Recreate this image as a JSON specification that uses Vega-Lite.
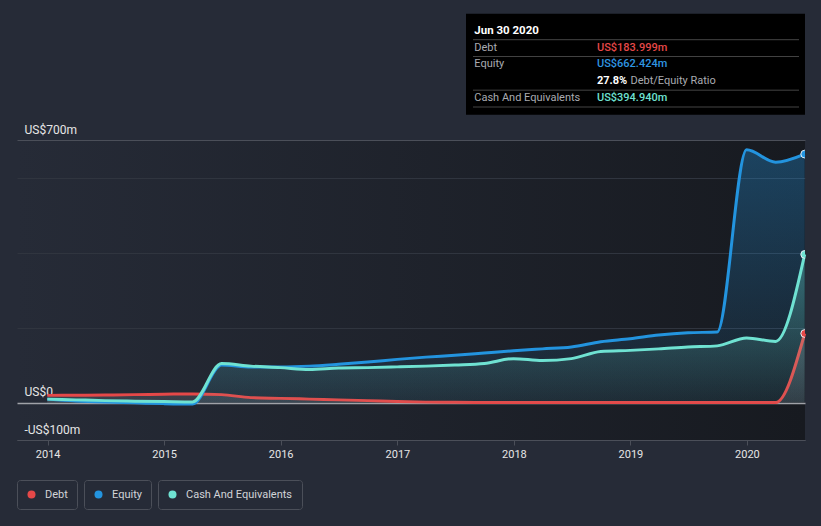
{
  "$schema": "https://vega.github.io/schema/vega-lite/v6.json",
  "width": 788,
  "height": 300,
  "autosize": {"type": "none"},
  "padding": {"left": 17, "top": 140, "right": 16, "bottom": 86},
  "background": "#262b37",
  "config": {
    "font": "Roboto",
    "view": {
      "stroke": null,
      "fill": {"gradient": "linear", "x1": 0, "y1": 0, "x2": 1, "y2": 0,
        "stops": [{"offset": 0, "color": "#262b37"}, {"offset": 1, "color": "#171a20"}]}
    },
    "legend": {
      "symbolType": "circle",
      "symbolSize": 64,
      "symbolStrokeWidth": 0,
      "labelColor": "#d2d4d8",
      "labelFontSize": 11,
      "labelFont": "Roboto",
      "padding": 9,
      "strokeColor": "#4b4f59",
      "cornerRadius": 3,
      "labelOffset": 8
    }
  },
  "datasets": {
    "fin": [
      {"date": "2013-12-31", "debt": 19, "equity": 9, "cash": 9},
      {"date": "2014-03-31", "debt": 19.5, "equity": 4, "cash": 7},
      {"date": "2014-06-30", "debt": 20, "equity": 1, "cash": 5},
      {"date": "2014-09-30", "debt": 21, "equity": -1, "cash": 3.5},
      {"date": "2014-12-31", "debt": 22, "equity": -3, "cash": 2.5},
      {"date": "2015-03-31", "debt": 23, "equity": -4, "cash": 1.5},
      {"date": "2015-06-30", "debt": 21, "equity": 100, "cash": 104},
      {"date": "2015-09-30", "debt": 13, "equity": 95, "cash": 97},
      {"date": "2015-12-31", "debt": 11, "equity": 95, "cash": 93},
      {"date": "2016-03-31", "debt": 9, "equity": 97, "cash": 88},
      {"date": "2016-06-30", "debt": 7, "equity": 102, "cash": 92},
      {"date": "2016-09-30", "debt": 5, "equity": 108, "cash": 93},
      {"date": "2016-12-31", "debt": 2.5, "equity": 115, "cash": 95},
      {"date": "2017-03-31", "debt": 1, "equity": 121, "cash": 97},
      {"date": "2017-06-30", "debt": 0.5, "equity": 126, "cash": 100},
      {"date": "2017-09-30", "debt": 0, "equity": 132, "cash": 104},
      {"date": "2017-12-31", "debt": 0, "equity": 138, "cash": 117},
      {"date": "2018-03-31", "debt": 0, "equity": 143, "cash": 112},
      {"date": "2018-06-30", "debt": 0, "equity": 148, "cash": 117},
      {"date": "2018-09-30", "debt": 0, "equity": 162, "cash": 136},
      {"date": "2018-12-31", "debt": 0, "equity": 170, "cash": 139},
      {"date": "2019-03-31", "debt": 0, "equity": 180, "cash": 143},
      {"date": "2019-06-30", "debt": 0, "equity": 186, "cash": 148},
      {"date": "2019-09-30", "debt": 0, "equity": 188, "cash": 151},
      {"date": "2019-12-31", "debt": 0, "equity": 674, "cash": 172},
      {"date": "2020-03-31", "debt": 0, "equity": 641, "cash": 163},
      {"date": "2020-06-30", "debt": 183.999, "equity": 662.424, "cash": 394.94}
    ],
    "tip": [
      {"k": "title", "label": "Jun 30 2020", "value": ""},
      {"k": "Debt", "label": "Debt", "value": "US$183.999m"},
      {"k": "Equity", "label": "Equity", "value": "US$662.424m"},
      {"k": "Ratio", "label": "", "value": "27.8%", "note": "Debt/Equity Ratio"},
      {"k": "Cash", "label": "Cash And Equivalents", "value": "US$394.940m"}
    ]
  },
  "layer": [
    {
      "data": {"name": "fin"},
      "transform": [{"fold": ["equity", "debt", "cash"], "as": ["series", "value"]}],
      "encoding": {
        "x": {
          "field": "date", "type": "temporal",
          "scale": {"type": "utc", "domain": [{"year": 2013, "month": 9, "date": 27, "utc": true}, {"year": 2020, "month": 7, "date": 1, "utc": true}]},
          "axis": {
            "title": null, "format": "%Y", "tickCount": {"interval": "year", "step": 1},
            "grid": false, "domainColor": "#4b4f59", "tickColor": "#4b4f59", "tickSize": 5,
            "labelColor": "#e6e6e6", "labelFontSize": 11, "labelPadding": 3, "labelFlush": false
          }
        },
        "y": {
          "field": "value", "type": "quantitative",
          "scale": {"domain": [-100, 700], "nice": false, "zero": false},
          "axis": {
            "title": null, "values": [-100, 0, 200, 400, 600, 700],
            "domain": false, "ticks": false, "tickSize": 0, "grid": true,
            "gridColor": {"condition": [{"test": "datum.value === 0", "value": "#a0a2a8"}, {"test": "datum.value === 700 || datum.value === -100", "value": "#4b4f59"}], "value": "#30353f"},
            "gridWidth": {"condition": {"test": "datum.value === 0", "value": 1.5}, "value": 1},
            "labelExpr": "datum.value === 700 ? 'US$700m' : datum.value === 0 ? 'US$0' : datum.value === -100 ? '-US$100m' : ''",
            "labelAlign": "left", "labelBaseline": "alphabetic", "labelPadding": -7, "labelOffset": -7,
            "labelColor": "#e6e6e6", "labelFontSize": 12, "labelBound": false, "labelOverlap": false
          }
        }
      },
      "layer": [
        {
          "transform": [{"filter": "datum.series === 'equity'"}],
          "mark": {"type": "area", "interpolate": "monotone",
            "color": {"gradient": "linear", "x1": 0, "y1": 0, "x2": 0, "y2": 1,
              "stops": [{"offset": 0, "color": "rgba(35,148,223,0.33)"}, {"offset": 1, "color": "rgba(35,148,223,0.05)"}]}},
          "encoding": {"y2": {"datum": 0}}
        },
        {
          "transform": [{"filter": "datum.series === 'debt'"}],
          "mark": {"type": "area", "interpolate": "monotone",
            "color": {"gradient": "linear", "x1": 0, "y1": 0, "x2": 0, "y2": 1,
              "stops": [{"offset": 0, "color": "rgba(190,195,205,0.22)"}, {"offset": 1, "color": "rgba(190,195,205,0.14)"}]}},
          "encoding": {"y2": {"datum": 0}}
        },
        {
          "transform": [{"filter": "datum.series === 'debt'"}],
          "mark": {"type": "line", "interpolate": "monotone", "color": "#e54848", "strokeWidth": 3},
          "encoding": {}
        },
        {
          "transform": [{"filter": "datum.series === 'cash'"}],
          "mark": {"type": "area", "interpolate": "monotone",
            "color": {"gradient": "linear", "x1": 0, "y1": 0, "x2": 0, "y2": 1,
              "stops": [{"offset": 0, "color": "rgba(113,231,214,0.33)"}, {"offset": 1, "color": "rgba(113,231,214,0.04)"}]}},
          "encoding": {"y2": {"datum": 0}}
        },
        {
          "transform": [{"filter": "datum.series === 'equity'"}],
          "mark": {"type": "line", "interpolate": "monotone", "color": "#2394df", "strokeWidth": 3},
          "encoding": {}
        },
        {
          "transform": [{"filter": "datum.series === 'cash'"}],
          "mark": {"type": "line", "interpolate": "monotone", "color": "#6fe2d2", "strokeWidth": 3},
          "encoding": {}
        },
        {
          "transform": [{"filter": "datum.series === 'debt' && time(datum.date) === utc(2020, 5, 30)"}],
          "mark": {"type": "point", "filled": true, "size": 60, "stroke": "#e8eef4", "strokeWidth": 1, "opacity": 1, "clip": true},
          "encoding": {
            "color": {"datum": "Debt", "scale": {"domain": ["Debt"], "range": ["#e54848"]},
              "legend": {"title": null, "orient": "none", "legendX": 0, "legendY": 340}}
          }
        },
        {
          "transform": [{"filter": "datum.series === 'equity' && time(datum.date) === utc(2020, 5, 30)"}],
          "mark": {"type": "point", "filled": true, "size": 60, "stroke": "#e8eef4", "strokeWidth": 1, "opacity": 1, "clip": true},
          "encoding": {
            "color": {"datum": "Equity", "scale": {"domain": ["Equity"], "range": ["#2394df"]},
              "legend": {"title": null, "orient": "none", "legendX": 67, "legendY": 340}}
          }
        },
        {
          "transform": [{"filter": "datum.series === 'cash' && time(datum.date) === utc(2020, 5, 30)"}],
          "mark": {"type": "point", "filled": true, "size": 60, "stroke": "#e8eef4", "strokeWidth": 1, "opacity": 1, "clip": true},
          "encoding": {
            "color": {"datum": "Cash And Equivalents", "scale": {"domain": ["Cash And Equivalents"], "range": ["#6fe2d2"]},
              "legend": {"title": null, "orient": "none", "legendX": 141, "legendY": 340}}
          }
        }
      ],
      "resolve": {"scale": {"color": "independent"}}
    },
    {
      "data": {"name": "tip"},
      "encoding": {
        "y": {"field": "k", "type": "ordinal",
          "scale": {"type": "point", "domain": ["title", "Debt", "Equity", "Ratio", "Cash"], "range": [-109.3, -42], "padding": 0},
          "axis": null}
      },
      "layer": [
        {
          "transform": [{"filter": "datum.k === 'Equity'"}],
          "mark": {"type": "rule", "color": "#000000", "strokeWidth": 101, "strokeCap": "butt"},
          "encoding": {
            "x": {"datum": 0.5698, "type": "quantitative", "scale": {"domain": [0, 1]}, "axis": null},
            "x2": {"datum": 1}
          }
        },
        {
          "transform": [{"filter": "datum.k !== 'Equity'"}],
          "mark": {"type": "rule", "color": "#444444", "strokeWidth": 1, "yOffset": 9},
          "encoding": {
            "x": {"datum": 0.5787, "type": "quantitative", "axis": null},
            "x2": {"datum": 0.9924}
          }
        },
        {
          "transform": [{"filter": "datum.k === 'title'"}],
          "mark": {"type": "text", "align": "left", "baseline": "middle", "fontSize": 11.5, "fontWeight": "bold", "color": "#ffffff"},
          "encoding": {
            "x": {"datum": 0.5803, "type": "quantitative", "axis": null},
            "text": {"field": "label"}
          }
        },
        {
          "transform": [{"filter": "datum.k !== 'title' && datum.k !== 'Ratio'"}],
          "mark": {"type": "text", "align": "left", "baseline": "middle", "fontSize": 11, "color": "#a9abb0"},
          "encoding": {
            "x": {"datum": 0.5803, "type": "quantitative", "axis": null},
            "text": {"field": "label"}
          }
        },
        {
          "transform": [{"filter": "datum.k !== 'title' && datum.k !== 'Ratio'"}],
          "mark": {"type": "text", "align": "left", "baseline": "middle", "fontSize": 11, "fontWeight": 500},
          "encoding": {
            "x": {"datum": 0.736, "type": "quantitative", "axis": null},
            "text": {"field": "value"},
            "color": {"condition": [{"test": "datum.k === 'Debt'", "value": "#e54848"}, {"test": "datum.k === 'Equity'", "value": "#2f96e2"}], "value": "#6fe2d2"}
          }
        },
        {
          "transform": [{"filter": "datum.k === 'Ratio'"}],
          "mark": {"type": "text", "align": "left", "baseline": "middle", "fontSize": 11, "fontWeight": "bold", "color": "#ffffff"},
          "encoding": {
            "x": {"datum": 0.736, "type": "quantitative", "axis": null},
            "text": {"field": "value"}
          }
        },
        {
          "transform": [{"filter": "datum.k === 'Ratio'"}],
          "mark": {"type": "text", "align": "left", "baseline": "middle", "fontSize": 11, "color": "#a9abb0"},
          "encoding": {
            "x": {"datum": 0.7785, "type": "quantitative", "axis": null},
            "text": {"field": "note"}
          }
        }
      ]
    }
  ],
  "resolve": {"scale": {"x": "independent", "y": "independent"}}
}
